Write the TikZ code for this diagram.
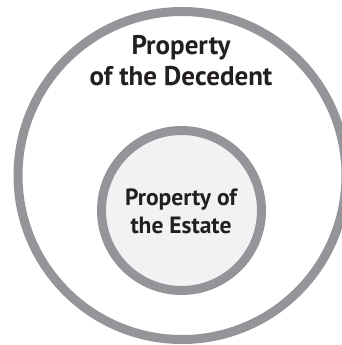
\documentclass[tikz,border=0pt]{standalone}
\usepackage{fontspec}
\setmainfont{PT Sans}
\begin{document}
\begin{tikzpicture}[x=1pt,y=-1pt,
  ring/.style={draw=ringgray, line width=9pt},
  bigtext/.style={font=\bfseries\fontsize{27}{31}\selectfont, text=textblack, inner sep=0pt, anchor=base},
  smalltext/.style={font=\bfseries\fontsize{23.5}{27}\selectfont, text=textblack, inner sep=0pt, anchor=base}]
\definecolor{ringgray}{HTML}{939598}
\definecolor{innerfill}{HTML}{F1F2F3}
\definecolor{textblack}{HTML}{231F20}
\useasboundingbox (0,0) rectangle (342,345);
\begin{scope}
\clip (0,0) rectangle (342,345);
% outer ring: property of the decedent
\draw[ring] (182,175.5) circle[radius=164];
\end{scope}
% inner disc: property of the estate
\draw[ring, fill=innerfill] (181.5,210.5) circle[radius=80];
\node[bigtext] (dec1) at (181,55) {Property};
\node[bigtext] (dec2) at (181,85) {of the Decedent};
\node[smalltext] (est1) at (181,205) {Property of};
\node[smalltext] (est2) at (181,233) {the Estate};
\end{tikzpicture}
\end{document}
